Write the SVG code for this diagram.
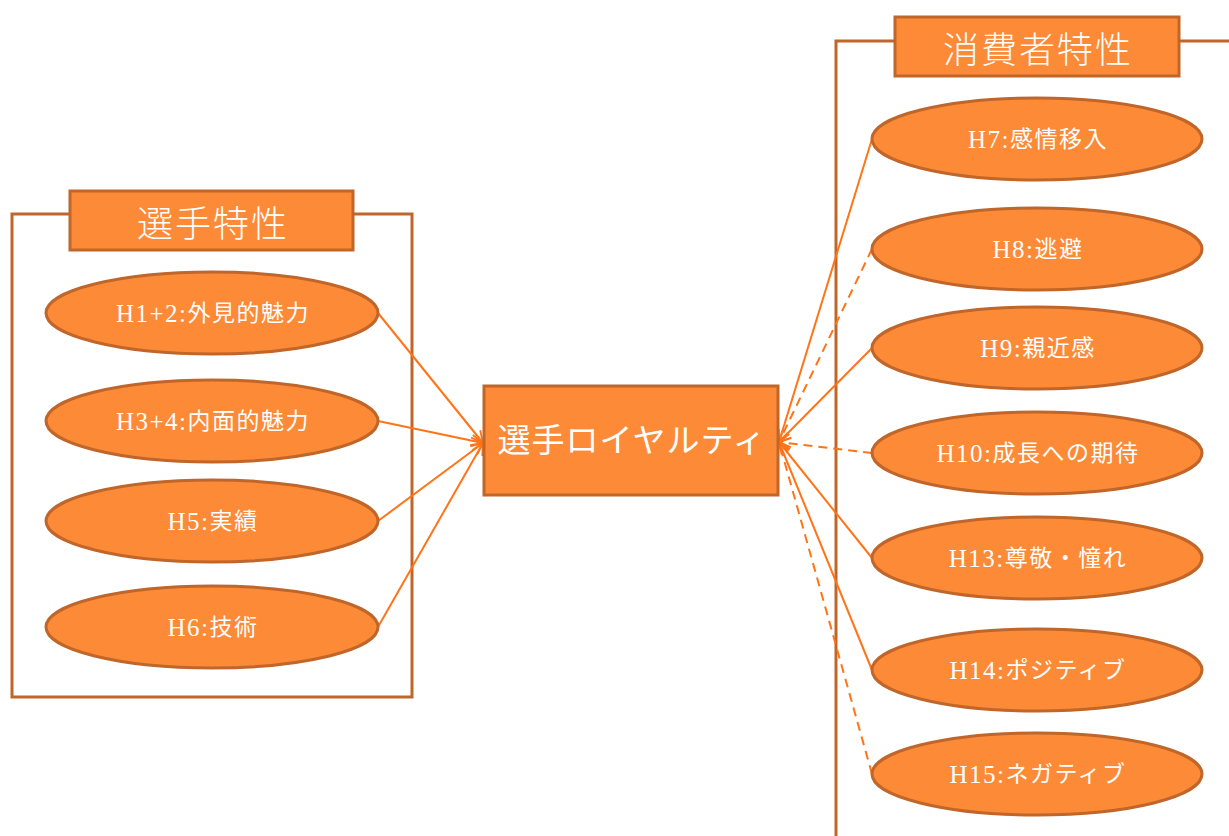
<svg xmlns="http://www.w3.org/2000/svg" width="1229" height="836" viewBox="0 0 1229 836">
<style>
.frame{fill:none;stroke:#C0662A;stroke-width:3}
.hdr{fill:#FD8A36;stroke:#C0662A;stroke-width:3}
.node{fill:#FD8A36;stroke:#C0662A;stroke-width:3}
.t{fill:#FFFFFF;font-family:"Liberation Serif","Noto Sans CJK JP",serif;text-anchor:middle;dominant-baseline:central}
.big{font-size:36px;font-family:"Noto Sans CJK JP",sans-serif;font-weight:300;letter-spacing:2px}
.lbl{font-size:23px}
.lat{font-size:25px;letter-spacing:1.5px}
.jp{letter-spacing:1.5px}
.c{fill:none;stroke:#FF7417;stroke-width:2;marker-end:url(#ah)}
.d{stroke-dasharray:9,6}
</style>
<defs>
<marker id="ah" viewBox="0 0 12 12" refX="11" refY="6" markerWidth="14" markerHeight="14" markerUnits="userSpaceOnUse" orient="auto">
<path d="M1,1 L11,6 L1,11" fill="none" stroke="#FF7417" stroke-width="1.6"/>
</marker>
</defs>
<g id="group-left">
<polyline class="frame" points="70,214 12,214 12,697 412,697 412,214 353,214"/>
<rect class="hdr" x="70" y="191" width="283" height="59"/>
<text class="t big" x="213" y="221">選手特性</text>
</g>
<g id="group-right">
<polyline class="frame" points="895,41 836,41 836,836"/>
<line class="frame" x1="1179" y1="41" x2="1229" y2="41"/>
<rect class="hdr" x="895" y="17" width="284" height="59"/>
<text class="t big" x="1038" y="47">消費者特性</text>
</g>
<g id="connectors">
<line class="c" x1="378" y1="313" x2="483" y2="443"/>
<line class="c" x1="378" y1="421" x2="483" y2="443"/>
<line class="c" x1="378" y1="521" x2="483" y2="443"/>
<line class="c" x1="378" y1="627" x2="483" y2="443"/>
<line class="c" x1="872" y1="139" x2="779" y2="442"/>
<line class="c d" x1="872" y1="249" x2="779" y2="442"/>
<line class="c" x1="872" y1="348" x2="779" y2="442"/>
<line class="c d" x1="872" y1="453" x2="779" y2="442"/>
<line class="c" x1="872" y1="558" x2="779" y2="442"/>
<line class="c" x1="872" y1="670" x2="779" y2="442"/>
<line class="c d" x1="872" y1="774" x2="779" y2="442"/>
</g>
<g id="loyalty">
<rect class="node" x="484" y="386" width="294" height="109"/>
<text class="t" x="632" y="441" style="font-size:33px;letter-spacing:1px">選手ロイヤルティ</text>
</g>
<g id="h1-2"><ellipse class="node" cx="212" cy="313" rx="166" ry="41"/><text class="t lbl" x="213" y="313"><tspan class="lat">H1+2:</tspan><tspan class="jp">外見的魅力</tspan></text></g>
<g id="h3-4"><ellipse class="node" cx="212" cy="421" rx="166" ry="41"/><text class="t lbl" x="213" y="421"><tspan class="lat">H3+4:</tspan><tspan class="jp">内面的魅力</tspan></text></g>
<g id="h5"><ellipse class="node" cx="212" cy="521" rx="166" ry="41"/><text class="t lbl" x="213" y="521"><tspan class="lat">H5:</tspan><tspan class="jp">実績</tspan></text></g>
<g id="h6"><ellipse class="node" cx="212" cy="627" rx="166" ry="41"/><text class="t lbl" x="213" y="627"><tspan class="lat">H6:</tspan><tspan class="jp">技術</tspan></text></g>
<g id="h7"><ellipse class="node" cx="1037" cy="139" rx="165" ry="41"/><text class="t lbl" x="1038" y="139"><tspan class="lat">H7:</tspan><tspan class="jp">感情移入</tspan></text></g>
<g id="h8"><ellipse class="node" cx="1037" cy="249" rx="165" ry="41"/><text class="t lbl" x="1038" y="249"><tspan class="lat">H8:</tspan><tspan class="jp">逃避</tspan></text></g>
<g id="h9"><ellipse class="node" cx="1037" cy="348" rx="165" ry="41"/><text class="t lbl" x="1038" y="348"><tspan class="lat">H9:</tspan><tspan class="jp">親近感</tspan></text></g>
<g id="h10"><ellipse class="node" cx="1037" cy="453" rx="165" ry="41"/><text class="t lbl" x="1038" y="453"><tspan class="lat">H10:</tspan><tspan class="jp">成長への期待</tspan></text></g>
<g id="h13"><ellipse class="node" cx="1037" cy="558" rx="165" ry="41"/><text class="t lbl" x="1038" y="558"><tspan class="lat">H13:</tspan><tspan class="jp">尊敬・憧れ</tspan></text></g>
<g id="h14"><ellipse class="node" cx="1037" cy="670" rx="165" ry="41"/><text class="t lbl" x="1038" y="670"><tspan class="lat">H14:</tspan><tspan class="jp">ポジティブ</tspan></text></g>
<g id="h15"><ellipse class="node" cx="1037" cy="774" rx="165" ry="41"/><text class="t lbl" x="1038" y="774"><tspan class="lat">H15:</tspan><tspan class="jp">ネガティブ</tspan></text></g>
</svg>
